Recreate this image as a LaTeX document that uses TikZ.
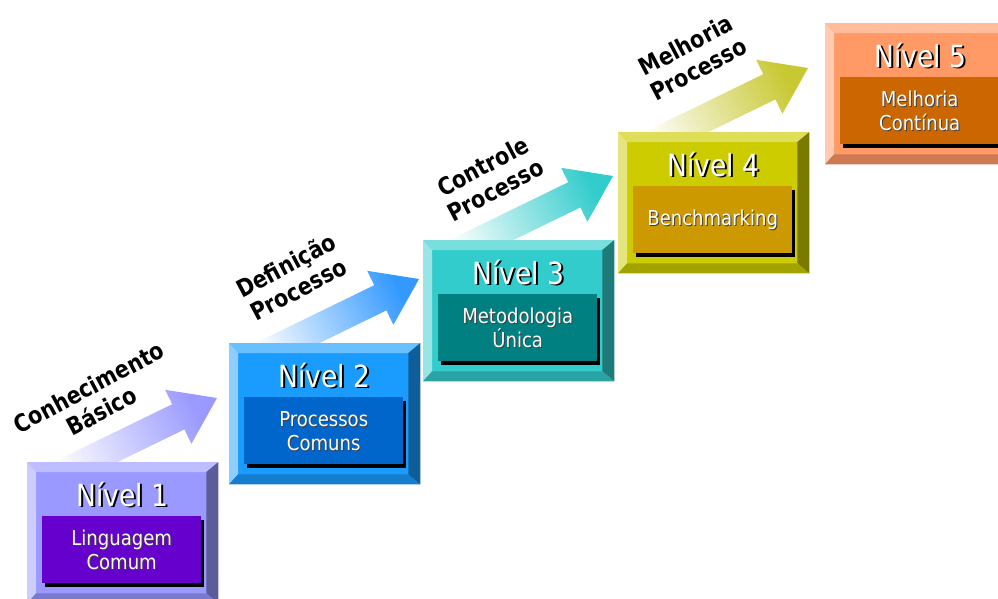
\documentclass[tikz,border=0pt]{standalone}
\usepackage{fontspec}
\usetikzlibrary{calc}
\newfontfamily\nivelfont[FakeStretch=0.87]{DejaVu Sans}
\newfontfamily\subfont[FakeStretch=0.88]{DejaVu Sans}
\newfontfamily\stepfont[FakeStretch=0.86]{DejaVu Sans}

\definecolor{faceA}{HTML}{9999FF}\definecolor{innerA}{HTML}{6600CC}
\definecolor{faceB}{HTML}{1A9CFF}\definecolor{innerB}{HTML}{0066CC}
\definecolor{faceC}{HTML}{33CCCC}\definecolor{innerC}{HTML}{008080}
\definecolor{faceD}{HTML}{CCCC00}\definecolor{innerD}{HTML}{CC9900}
\definecolor{faceE}{HTML}{FF9966}\definecolor{innerE}{HTML}{CC6600}
\definecolor{arrA}{HTML}{9999FF}
\definecolor{arrB}{HTML}{3399FF}
\definecolor{arrC}{HTML}{33CCCC}
\definecolor{arrD}{HTML}{C8C832}

\tikzset{
  levelface/.style={rectangle, inner sep=0pt, minimum width=191pt, minimum height=141pt, anchor=north west},
  innerbox/.style={rectangle, inner sep=0pt, minimum width=159pt, minimum height=67pt, anchor=north west},
  niveltxt/.style={inner sep=0pt, anchor=base, font=\nivelfont\fontsize{30.5}{36}\selectfont},
  subtxt/.style={inner sep=0pt, align=center, font=\subfont\fontsize{20.5}{24}\selectfont},
  steptxt/.style={inner sep=0pt, align=center, rotate=28, text=black, font=\stepfont\bfseries\fontsize{24}{27}\selectfont},
}

% #1 name, #2 x, #3 y, #4 face colour, #5 inner colour, #6 number, #7 label
\newcommand\drawlevel[7]{%
  \node[levelface, fill=#4] (#1) at (#2,#3) {};
  \fill[#4!65!white] (#1.north west) -- (#1.north east) -- ($(#1.north east)+(-12,10)$) -- ($(#1.north west)+(9,10)$) -- cycle;
  \fill[#4!50!white] (#1.north west) -- ($(#1.north west)+(9,10)$) -- ($(#1.south west)+(9,-10)$) -- (#1.south west) -- cycle;
  \fill[#4!60!black] (#1.north east) -- (#1.south east) -- ($(#1.south east)+(-12,-10)$) -- ($(#1.north east)+(-12,10)$) -- cycle;
  \fill[#4!80!black] (#1.south west) -- (#1.south east) -- ($(#1.south east)+(-12,-10)$) -- ($(#1.south west)+(9,-10)$) -- cycle;
  \node[innerbox, fill=black] (#1s) at ($(#1.north west)+(18,58)$) {};
  \node[innerbox, fill=#5] (#1i) at ($(#1.north west)+(15,54)$) {};
  \node[niveltxt, text=black] at ($(#1.north)+(1.5,45.5)$) {Nível #6};
  \node[niveltxt, text=white] (#1n) at ($(#1.north)+(0,44)$) {Nível #6};
  \node[subtxt, text=black!75] at ($(#1i.center)+(1,1)$) {#7};
  \node[subtxt, text=white] (#1t) at (#1i.center) {#7};
}

% #1 box name, #2 colour
\newcommand\drawstep[2]{%
  \coordinate (#1tip) at ($(#1.north west)+(190,-64)$);
  \shade[top color=#2, bottom color=white, shading angle=-64]
    (#1tip) -- ($(#1tip)+(-51.8,-8.2)$) -- ($(#1tip)+(-44.8,6.2)$)
    -- ($(#1tip)+(-176.9,70.6)$) -- ($(#1tip)+(-164.7,95.8)$)
    -- ($(#1tip)+(-32.6,31.4)$) -- ($(#1tip)+(-25.6,45.8)$) -- cycle;
}

\begin{document}
\begin{tikzpicture}[x=1pt, y=-1pt]
  \useasboundingbox (0,0) rectangle (998,598);
  \clip (0,0) rectangle (998,598);
  \fill[white] (0,0) rectangle (998,598);

  \coordinate (b1) at (27,462);
  \coordinate (b2) at (229,343);
  \coordinate (b3) at (423,240);
  \coordinate (b4) at (618,132);

  \node[levelface, draw=none] (a1) at (b1) {};
  \node[levelface, draw=none] (a2) at (b2) {};
  \node[levelface, draw=none] (a3) at (b3) {};
  \node[levelface, draw=none] (a4) at (b4) {};
  \drawstep{a1}{arrA}
  \drawstep{a2}{arrB}
  \drawstep{a3}{arrC}
  \drawstep{a4}{arrD}

  \drawlevel{L1}{27}{462}{faceA}{innerA}{1}{Linguagem\\Comum}
  \drawlevel{L2}{229}{343}{faceB}{innerB}{2}{Processos\\Comuns}
  \drawlevel{L3}{423}{240}{faceC}{innerC}{3}{Metodologia\\Única}
  \drawlevel{L4}{618}{132}{faceD}{innerD}{4}{Benchmarking}
  \drawlevel{L5}{825}{23}{faceE}{innerE}{5}{Melhoria\\Contínua}

  \node[steptxt] (s1) at (95,399) {Conhecimento\\Básico};
  \node[steptxt] (s2) at (292,277) {Definição\\Processo};
  \node[steptxt] (s3) at (489,178) {Controle\\Processo};
  \node[steptxt] (s4) at (692,57) {Melhoria\\Processo};
\end{tikzpicture}
\end{document}
